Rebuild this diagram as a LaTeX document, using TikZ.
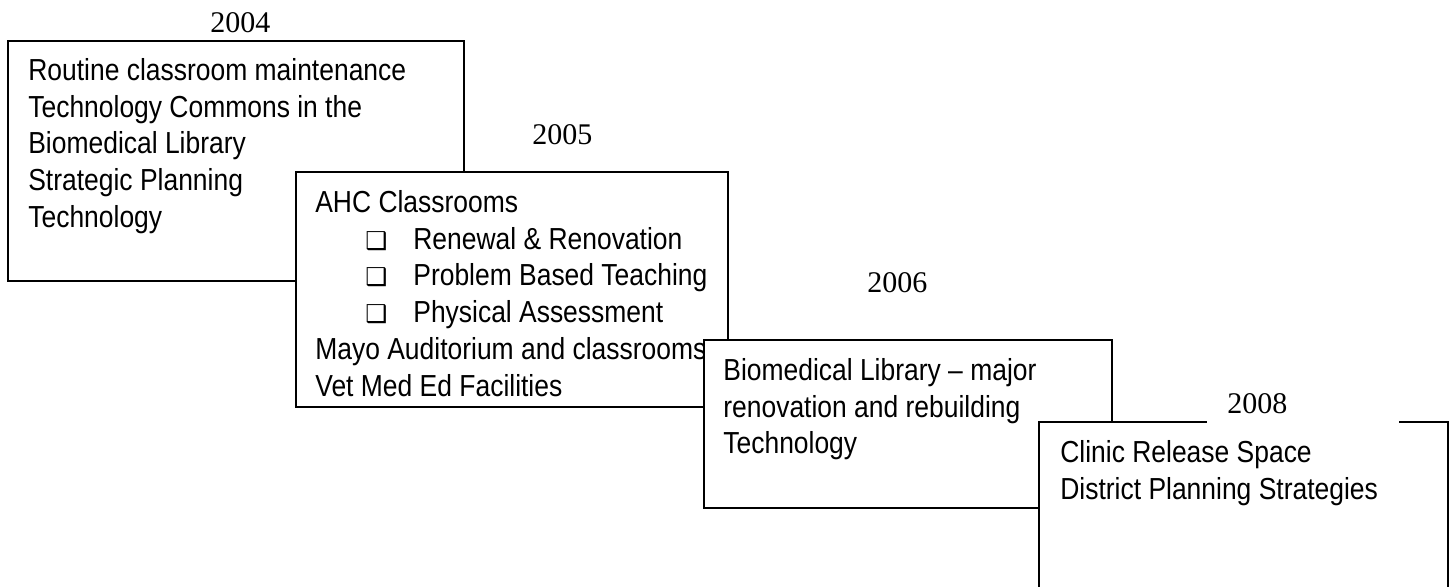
\documentclass[tikz,border=0pt]{standalone}
\usepackage{fontspec}
\setmainfont{Liberation Sans}[FakeStretch=0.87]
\newfontfamily\yearfont{Liberation Serif}
\newfontfamily\symfont{DejaVu Sans}
\newcommand{\itm}[1]{\hspace*{1cm}\makebox[0.96cm][l]{\symfont\fontsize{14}{14}\selectfont ❑}#1}

\begin{document}
\begin{tikzpicture}[x=0.2mm, y=-0.2mm,
  card/.style={draw, line width=1.1pt, fill=white, anchor=north west, inner sep=0pt},
  body/.style={anchor=north west, inner sep=0pt, align=left, font=\fontsize{17.3}{20.9}\selectfont},
  year/.style={anchor=base west, inner xsep=0.4cm, inner ysep=0.3cm, text width=3.04cm, align=left, font=\yearfont\fontsize{17.07}{20}\selectfont}]
\clip (0,0) rectangle (1453,587);
\node[year] (y04) at (190, 33) {2004};
\node[year] (y05) at (512, 145) {2005};
\node[year] (y06) at (847, 292) {2006};
\node[card, minimum width=9.12cm, minimum height=4.8cm] (box04) at (7, 40) {};
\node[body] (txt04) at (28, 58) {Routine classroom maintenance\\ Technology Commons in the\\ Biomedical Library\\ Strategic Planning\\ Technology};
\node[card, minimum width=8.64cm, minimum height=4.7cm] (box05) at (295, 171) {};
\node[body] (txt05) at (315, 190) {AHC Classrooms\\ \itm{Renewal \& Renovation}\\ \itm{Problem Based Teaching}\\ \itm{Physical Assessment}\\ Mayo Auditorium and classrooms\\ Vet Med Ed Facilities};
\node[card, minimum width=8.16cm, minimum height=3.36cm] (box06) at (703, 339) {};
\node[body] (txt06) at (723, 358) {Biomedical Library – major\\ renovation and rebuilding\\ Technology};
\node[card, minimum width=8.18cm, minimum height=4cm] (box08) at (1038, 421) {};
\node[body] (txt08) at (1060, 440) {Clinic Release Space\\ District Planning Strategies};
\node[year, fill=white] (y08) at (1207, 413) {2008};
\end{tikzpicture}
\end{document}
